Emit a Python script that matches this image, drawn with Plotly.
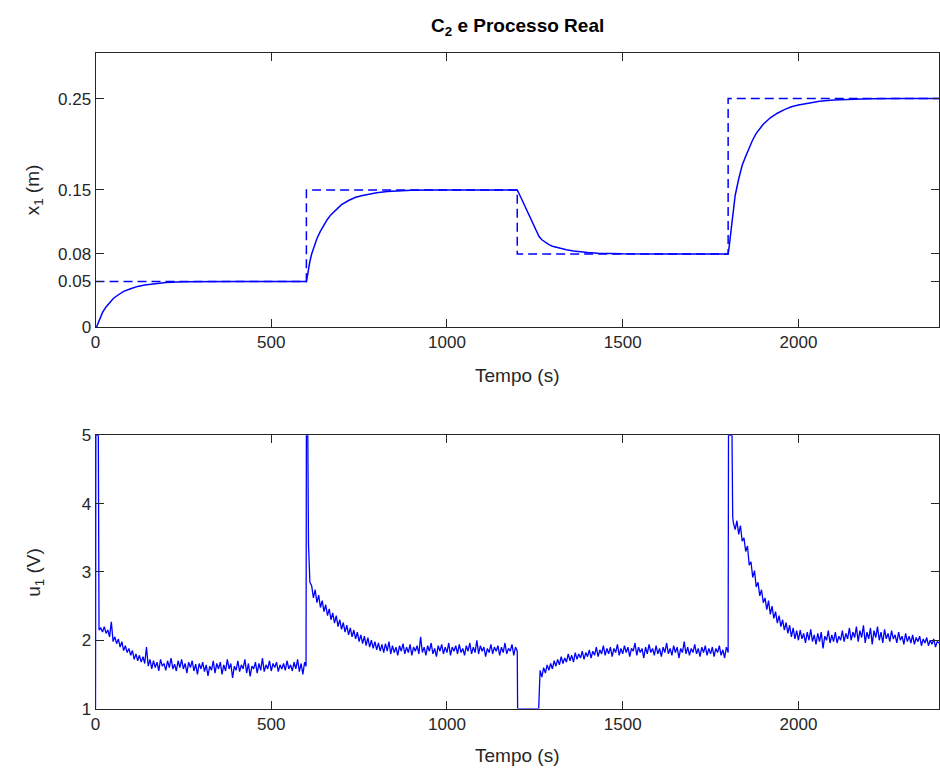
import plotly.graph_objects as go

# ---------------- data ----------------
# setpoint (reference) for x1
sp_t = [0, 600, 1200, 1800, 2400]
sp_v = [0.05, 0.15, 0.08, 0.25, 0.25]

# measured level x1 (m)
x1_t = [0, 3, 5, 10, 15, 20, 30, 40, 50, 60, 70, 80, 100, 120, 140, 160, 180, 200, 250, 300, 400, 500, 600,
        603, 606, 610, 615, 620, 630, 640, 650, 660, 670, 680, 700, 720, 740, 760, 780, 800, 830, 860, 900, 950,
        1000, 1100, 1200,
        1210, 1220, 1230, 1240, 1250, 1262, 1270, 1280, 1290, 1300, 1320, 1340, 1360, 1380, 1400, 1430, 1460,
        1500, 1600, 1700, 1800,
        1802, 1804, 1807, 1810, 1815, 1820, 1830, 1840, 1850, 1860, 1870, 1880, 1900, 1920, 1940, 1960, 1980,
        2000, 2030, 2060, 2100, 2150, 2200, 2300, 2400]
x1_v = [0.0, 0.0, 0.002, 0.007, 0.012, 0.016, 0.022, 0.027, 0.031, 0.034, 0.037, 0.039, 0.042, 0.0445, 0.046,
        0.047, 0.048, 0.0487, 0.0495, 0.0499, 0.05, 0.05, 0.05,
        0.056, 0.064, 0.072, 0.080, 0.086, 0.097, 0.105, 0.112, 0.118, 0.123, 0.127, 0.134, 0.1385, 0.142, 0.144,
        0.1458, 0.147, 0.1483, 0.1492, 0.1497, 0.15,
        0.15, 0.15, 0.15,
        0.142, 0.134, 0.126, 0.118, 0.110, 0.099, 0.0955, 0.0925, 0.0902, 0.0885, 0.0862, 0.0845, 0.0832, 0.0822,
        0.0815, 0.0808, 0.0803,
        0.0801, 0.08, 0.08, 0.08,
        0.085, 0.092, 0.104, 0.114, 0.133, 0.144, 0.162, 0.177, 0.187, 0.197, 0.205, 0.212, 0.222, 0.229, 0.234,
        0.238, 0.241,
        0.243, 0.2455, 0.2472, 0.2485, 0.2494, 0.2498, 0.25, 0.25]

# control signal u1 (V): saturation events
ev0_t = [0, 1, 8, 10]
ev0_v = [1.0, 5.0, 5.0, 2.15]
seg1_start = 15
seg1_v = [2.18, 2.12, 2.20, 2.10, 2.15, 2.05, 2.27, 1.98, 2.05, 1.95, 2.02, 1.90, 1.98, 1.85, 1.92, 1.82, 1.88,
          1.78, 1.85, 1.72, 1.80, 1.70, 1.78, 1.68, 1.76, 1.66, 1.90, 1.62, 1.72, 1.58, 1.70, 1.60, 1.68, 1.55,
          1.72, 1.62, 1.66, 1.56, 1.70, 1.60, 1.74, 1.58, 1.65, 1.55, 1.70, 1.60, 1.72, 1.58, 1.66, 1.52, 1.68,
          1.60, 1.70, 1.55, 1.65, 1.50, 1.66, 1.58, 1.68, 1.54, 1.64, 1.48, 1.62, 1.56, 1.70, 1.52, 1.66, 1.58,
          1.68, 1.50, 1.64, 1.55, 1.72, 1.58, 1.66, 1.45, 1.62, 1.56, 1.70, 1.54, 1.64, 1.58, 1.72, 1.52, 1.66,
          1.47, 1.62, 1.58, 1.68, 1.52, 1.66, 1.56, 1.74, 1.54, 1.64, 1.58, 1.70, 1.55, 1.66, 1.60, 1.68, 1.54,
          1.64, 1.58, 1.66, 1.56, 1.70, 1.58, 1.64, 1.55, 1.68, 1.58, 1.72, 1.54, 1.66, 1.50, 1.68]
ev1_t = [599, 600, 604, 606, 610]
ev1_v = [1.62, 5.0, 5.0, 3.40, 2.85]
seg2_start = 615
seg2_v = [2.80, 2.62, 2.74, 2.55, 2.66, 2.48, 2.58, 2.42, 2.52, 2.36, 2.46, 2.30, 2.40, 2.25, 2.36, 2.20, 2.30,
          2.16, 2.26, 2.12, 2.22, 2.08, 2.18, 2.05, 2.15, 2.02, 2.12, 1.98, 2.08, 1.95, 2.06, 1.92, 2.04, 1.90,
          2.00, 1.88, 1.98, 1.86, 1.96, 1.84, 1.94, 1.82, 1.95, 1.84, 1.98, 1.80, 1.92, 1.82, 1.90, 1.78, 1.92,
          1.84, 1.95, 1.80, 1.90, 1.82, 1.94, 1.78, 1.90, 1.84, 1.92, 1.80, 2.05, 1.82, 1.90, 1.78, 1.92, 1.84,
          1.96, 1.80, 1.88, 1.76, 1.92, 1.84, 1.94, 1.80, 1.90, 1.82, 1.96, 1.78, 1.90, 1.84, 1.92, 1.80, 1.94,
          1.82, 1.88, 1.78, 1.92, 1.84, 1.96, 1.80, 1.90, 1.82, 2.00, 1.80, 1.92, 1.84, 1.90, 1.76, 1.88, 1.82,
          1.94, 1.80, 1.90, 1.84, 1.92, 1.78, 1.90, 1.82, 1.96, 1.80, 1.88, 1.84, 1.94, 1.78, 1.90]
ev2_t = [1200, 1201, 1261, 1265]
ev2_v = [1.84, 1.0, 1.0, 1.56]
seg3_start = 1270
seg3_v = [1.46, 1.60, 1.52, 1.64, 1.56, 1.66, 1.58, 1.70, 1.62, 1.72, 1.64, 1.76, 1.66, 1.74, 1.68, 1.80, 1.70,
          1.78, 1.68, 1.82, 1.72, 1.80, 1.74, 1.84, 1.72, 1.82, 1.76, 1.86, 1.74, 1.84, 1.78, 1.90, 1.76, 1.86,
          1.80, 1.92, 1.78, 1.88, 1.80, 1.90, 1.76, 1.88, 1.82, 1.94, 1.78, 1.88, 1.80, 1.92, 1.82, 1.90, 1.76,
          1.88, 1.84, 1.96, 1.78, 1.90, 1.82, 1.88, 1.74, 1.90, 1.80, 1.94, 1.82, 1.88, 1.78, 1.92, 1.80, 1.88,
          1.76, 1.90, 1.82, 1.96, 1.80, 1.88, 1.78, 1.92, 1.82, 1.90, 1.74, 1.88, 1.82, 1.98, 1.80, 1.90, 1.78,
          1.88, 1.82, 1.94, 1.80, 1.88, 1.76, 1.90, 1.82, 1.92, 1.78, 1.88, 1.80, 1.90, 1.76, 1.88, 1.82, 1.92,
          1.78, 1.86, 1.74, 1.90]
ev3_t = [1800, 1801, 1811, 1813]
ev3_v = [1.82, 5.0, 5.0, 3.80]
seg4_start = 1815
seg4_v = [3.72, 3.62, 3.75, 3.55, 3.68, 3.45, 3.50, 3.30, 3.38, 3.10, 3.15, 2.92, 3.02, 2.78, 2.85, 2.65, 2.74,
          2.55, 2.62, 2.45, 2.58, 2.38, 2.50, 2.32, 2.42, 2.25, 2.36, 2.20, 2.30, 2.15, 2.26, 2.10, 2.22, 2.05,
          2.18, 2.02, 2.14, 2.00, 2.15, 2.02, 2.10, 1.96, 2.12, 2.00, 2.16, 1.98, 2.08, 1.94, 2.10, 1.98, 2.12,
          1.88, 2.06, 2.00, 2.14, 1.96, 2.08, 1.98, 2.12, 1.96, 2.06, 2.00, 2.14, 1.98, 2.10, 2.02, 2.18, 2.00,
          2.12, 2.04, 2.20, 1.98, 2.14, 2.04, 2.22, 1.96, 2.12, 2.02, 2.18, 1.94, 2.14, 2.04, 2.20, 2.00, 2.12,
          1.96, 2.16, 2.02, 2.10, 1.98, 2.14, 2.02, 2.08, 1.96, 2.12, 2.00, 2.06, 1.94, 2.10, 1.98, 2.06, 1.96,
          2.08, 1.94, 2.04, 1.98, 2.06, 1.92, 2.02, 1.96, 2.04, 1.92, 2.00, 1.94, 2.02, 1.90, 1.98, 1.96]
STEP = 5

x_ticks = [0, 500, 1000, 1500, 2000]
x1_ticks = [0, 0.05, 0.08, 0.15, 0.25]
x1_ticklabels = ["0", "0.05", "0.08", "0.15", "0.25"]
u_ticks = [1, 2, 3, 4, 5]


def seg_times(start, vals):
    return [start + STEP * i for i in range(len(vals))]


u_t = (ev0_t + seg_times(seg1_start, seg1_v) + ev1_t + seg_times(seg2_start, seg2_v)
       + ev2_t + seg_times(seg3_start, seg3_v) + ev3_t + seg_times(seg4_start, seg4_v))
u_v = ev0_v + seg1_v + ev1_v + seg2_v + ev2_v + seg3_v + ev3_v + seg4_v

# ---------------- figure ----------------
W, H = 940, 781
BLUE = "#0000FF"
AX = "#262626"
FONT = "Liberation Sans, Arial, Helvetica, sans-serif"

fig = go.Figure()
fig.add_trace(go.Scatter(x=sp_t, y=sp_v, mode="lines", line=dict(color=BLUE, width=1.5, dash="9px,5px", shape="hv"),
                         xaxis="x", yaxis="y", showlegend=False))
fig.add_trace(go.Scatter(x=x1_t, y=x1_v, mode="lines", line=dict(color=BLUE, width=1.5),
                         xaxis="x", yaxis="y", showlegend=False))
fig.add_trace(go.Scatter(x=u_t, y=u_v, mode="lines", line=dict(color=BLUE, width=1.3),
                         xaxis="x2", yaxis="y2", showlegend=False))


def px_x(p):
    return p / W


def px_y(p):
    return 1 - p / H


xdom = [px_x(91), px_x(939)]
common = dict(showline=True, linecolor=AX, linewidth=1, mirror="ticks", ticks="inside", ticklen=8,
              tickcolor=AX, tickwidth=1, showgrid=False, zeroline=False,
              tickfont=dict(family=FONT, size=17, color=AX))

fig.update_layout(
    width=W, height=H, margin=dict(l=0, r=0, t=0, b=0),
    paper_bgcolor="white", plot_bgcolor="white",
    xaxis=dict(domain=xdom, anchor="y", range=[0, 2400], tickvals=x_ticks, **common),
    yaxis=dict(domain=[px_y(326), px_y(45)], anchor="x", range=[0, 0.3], tickvals=x1_ticks,
               ticktext=x1_ticklabels, **common),
    xaxis2=dict(domain=xdom, anchor="y2", range=[0, 2400], tickvals=x_ticks, **common),
    yaxis2=dict(domain=[px_y(717), px_y(437)], anchor="x2", range=[1, 5], tickvals=u_ticks, **common),
)

lab = dict(family=FONT, size=19, color=AX)
cx = (91 + 939) / 2 / W
fig.add_annotation(text="<b>C<sub>2</sub> e Processo Real</b>", x=cx, y=px_y(18), xref="paper", yref="paper",
                   showarrow=False, font=dict(family=FONT, size=19, color="black"), yanchor="middle")
fig.add_annotation(text="Tempo (s)", x=cx, y=px_y(376), xref="paper", yref="paper", showarrow=False,
                   font=lab, yanchor="middle")
fig.add_annotation(text="Tempo (s)", x=cx, y=px_y(765), xref="paper", yref="paper", showarrow=False,
                   font=lab, yanchor="middle")
fig.add_annotation(text="x<sub>1</sub> (m)", x=px_x(30), y=px_y(185), xref="paper", yref="paper",
                   showarrow=False, font=lab, textangle=-90, xanchor="center", yanchor="middle")
fig.add_annotation(text="u<sub>1</sub> (V)", x=px_x(30), y=px_y(577), xref="paper", yref="paper",
                   showarrow=False, font=lab, textangle=-90, xanchor="center", yanchor="middle")

fig.write_html("out.html", config={"displayModeBar": False},
               post_script="document.body.style.margin='0';document.body.style.overflow='hidden';")
